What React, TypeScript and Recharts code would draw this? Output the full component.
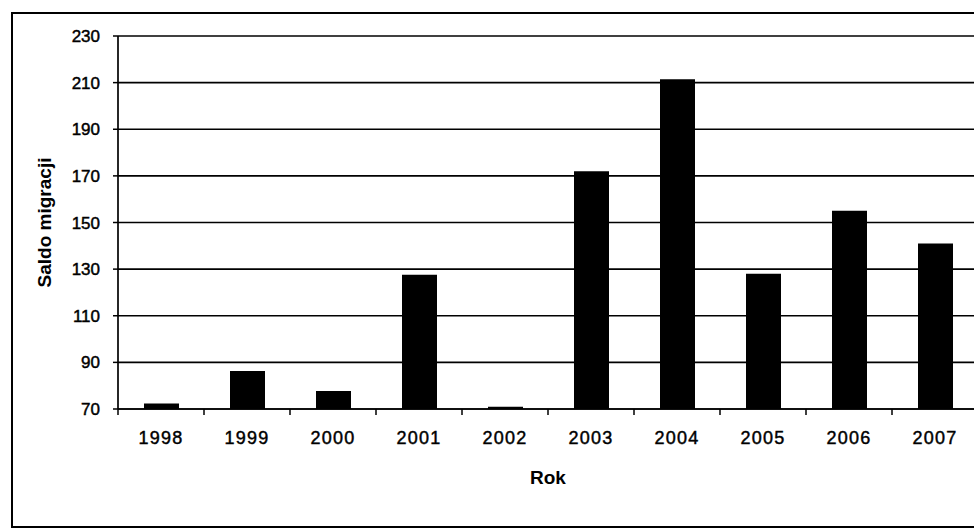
import { BarChart, Bar, XAxis, YAxis, CartesianGrid, Label } from 'recharts';

const years = ['1998', '1999', '2000', '2001', '2002', '2003', '2004', '2005', '2006', '2007'];
const saldo = [72.4, 86.3, 77.7, 127.6, 71, 172, 211.5, 128, 155, 141];
const yTicks = [70, 90, 110, 130, 150, 170, 190, 210, 230];

const data = years.map((rok, i) => ({ rok, saldo: saldo[i] }));

const FONT = '"Liberation Sans", Arial, sans-serif';

// Excel-style category tick: label in the middle, small mark at the category boundary
const YearTick = (props: any) => {
  const { x, y, payload } = props;
  const half = payload?.offset ?? 43;
  return (
    <g>
      <line x1={x - half} y1={y} x2={x - half} y2={y + 6} stroke="#000" strokeWidth={1.5} />
      <text
        x={x}
        y={y + 35}
        textAnchor="middle"
        fontSize={18}
        letterSpacing={1.2}
        fill="#000"
        stroke="#000"
        strokeWidth={0.45}
        fontFamily={FONT}
      >
        {payload.value}
      </text>
    </g>
  );
};

const App = () => {
  return (
    <div style={{ position: 'absolute', left: 0, top: 0, width: 974, height: 530, overflow: 'hidden', background: '#fff' }}>
      {/* outer frame of the scanned chart, its right side is cut off */}
      <div
        style={{
          position: 'absolute',
          left: 11,
          top: 12,
          width: 963,
          height: 516,
          borderLeft: '2px solid #000',
          borderTop: '2px solid #000',
          borderBottom: '2px solid #000',
          boxSizing: 'border-box',
        }}
      />
      <div style={{ position: 'absolute', left: 0, top: 0 }}>
        <BarChart
          width={1000}
          height={530}
          data={data}
          barSize={35}
          margin={{ top: 36, right: 22, left: 58, bottom: 61 }}
        >
          <CartesianGrid vertical={false} stroke="#000" strokeWidth={1.7} />
          <XAxis
            dataKey="rok"
            height={60}
            axisLine={{ stroke: '#000', strokeWidth: 1.7 }}
            tickLine={false}
            tickSize={0}
            tickMargin={0}
            interval={0}
            tick={<YearTick />}
          >
            <Label
              content={(p: any) => {
                const vb = p.viewBox || { x: 118, y: 409, width: 860 };
                return (
                  <text
                    x={vb.x + vb.width / 2}
                    y={vb.y + 75}
                    textAnchor="middle"
                    fontSize={19}
                    fontWeight="bold"
                    fill="#000"
                    fontFamily={FONT}
                  >
                    Rok
                  </text>
                );
              }}
            />
          </XAxis>
          <YAxis
            width={60}
            domain={[70, 230]}
            ticks={yTicks}
            interval={0}
            axisLine={{ stroke: '#000', strokeWidth: 1.7 }}
            tickLine={{ stroke: '#000', strokeWidth: 1.5 }}
            tickSize={5}
            tickMargin={13}
            tick={{ fill: '#000', stroke: '#000', strokeWidth: 0.45, fontSize: 17, fontFamily: FONT }}
          >
            <Label
              content={(p: any) => {
                const vb = p.viewBox || { x: 58, y: 36, height: 373 };
                const cx = vb.x - 14;
                const cy = vb.y + vb.height / 2;
                return (
                  <text
                    x={cx}
                    y={cy}
                    transform={`rotate(-90 ${cx} ${cy})`}
                    textAnchor="middle"
                    dominantBaseline="central"
                    fontSize={19}
                    fontWeight="bold"
                    fill="#000"
                    fontFamily={FONT}
                  >
                    Saldo migracji
                  </text>
                );
              }}
            />
          </YAxis>
          <Bar dataKey="saldo" fill="#000" isAnimationActive={false} />
        </BarChart>
      </div>
    </div>
  );
};

export default App;
